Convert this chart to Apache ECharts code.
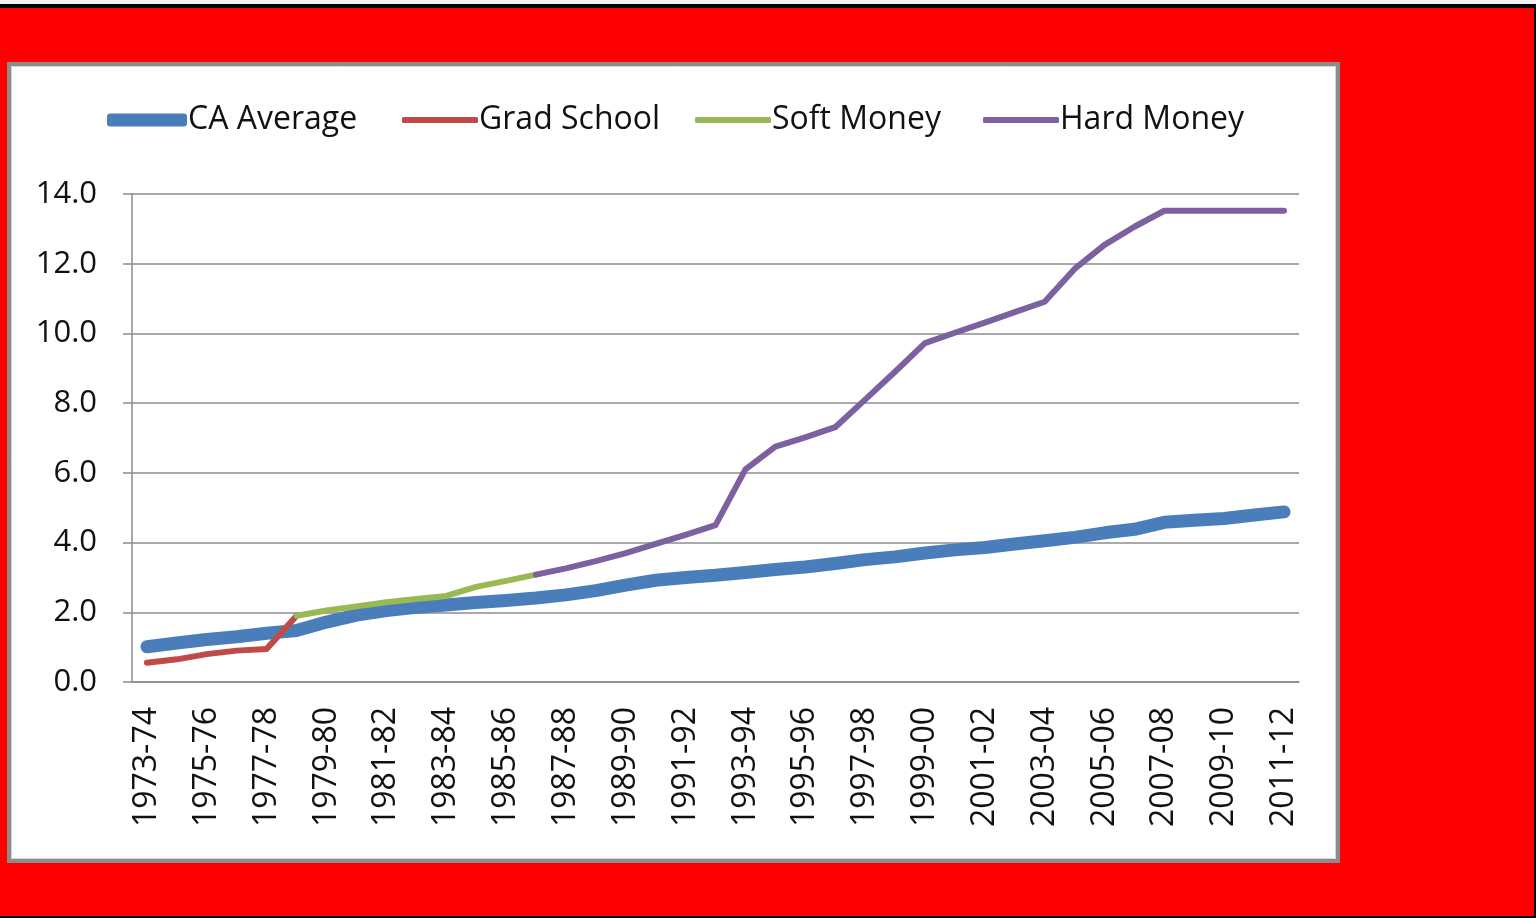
<!DOCTYPE html>
<html>
<head>
<meta charset="utf-8">
<title>CA Average vs Hard Money</title>
<script src="https://cdn.jsdelivr.net/npm/echarts@6/dist/echarts.min.js"></script>
<style>
  html, body { margin: 0; padding: 0; background: #f3f3f3; }
  #main { position: absolute; left: 0; top: 0; width: 1536px; height: 918px; }
  .edge { position: absolute; background: #000; pointer-events: none; }
</style>
</head>
<body>
<div id="main"></div>
<!-- black frame round the red slide -->
<div class="edge" style="left:0;top:0;width:1536px;height:4px;background:#f3f3f3"></div>
<div class="edge" style="left:0;top:4px;width:1536px;height:4px"></div>
<div class="edge" style="left:1534px;top:4px;width:2px;height:914px"></div>
<div class="edge" style="left:0;top:916px;width:1536px;height:2px"></div>
<script>
// school years on the x axis
var years = [
  "1973-74", "1974-75", "1975-76", "1976-77", "1977-78", "1978-79", "1979-80",
  "1980-81", "1981-82", "1982-83", "1983-84", "1984-85", "1985-86", "1986-87",
  "1987-88", "1988-89", "1989-90", "1990-91", "1991-92", "1992-93", "1993-94",
  "1994-95", "1995-96", "1996-97", "1997-98", "1998-99", "1999-00", "2000-01",
  "2001-02", "2002-03", "2003-04", "2004-05", "2005-06", "2006-07", "2007-08",
  "2008-09", "2009-10", "2010-11", "2011-12",
];

var caAverage = [
  1.01, 1.12, 1.22, 1.30, 1.40, 1.48, 1.72, 1.92, 2.05, 2.14,
  2.21, 2.28, 2.34, 2.41, 2.50, 2.62, 2.78, 2.92, 3.00, 3.06,
  3.14, 3.23, 3.30, 3.40, 3.51, 3.59, 3.70, 3.79, 3.86, 3.96,
  4.05, 4.15, 4.28, 4.38, 4.58, 4.64, 4.69, 4.79, 4.88,
];

var gradSchool = [0.55, 0.65, 0.80, 0.90, 0.95, 1.90];

var softMoney = [
  null, null, null, null, null,
  1.90, 2.05, 2.17, 2.29, 2.38, 2.47, 2.73, 2.90, 3.08,
];

var hardMoney = [
  null, null, null, null, null, null, null, null, null, null, null, null, null,
  3.08, 3.26, 3.47, 3.70, 3.96, 4.22, 4.50, 6.10, 6.75, 7.02, 7.31,
  8.10, 8.90, 9.72, 10.02, 10.31, 10.61, 10.91, 11.85, 12.54, 13.06,
  13.52, 13.52, 13.52, 13.52, 13.52,
];

var yTicks = [0, 2, 4, 6, 8, 10, 12, 14];

var fontName = "'Open Sans', 'DejaVu Sans', sans-serif";

// one legend per key so each sits where the original has it
function legendItem(name, left, thick) {
  return {
    left: left,
    top: 104,
    padding: 0,
    icon: "roundRect",
    itemWidth: thick ? 80 : 76,
    itemHeight: thick ? 13 : 6,
    textStyle: {
      color: "#111",
      fontFamily: fontName,
      fontSize: 32,
      padding: [0, 0, 0, -4],
    },
    data: [name],
  };
}

var mychart = echarts.init(document.getElementById("main"));
var option = {
  animation: false,
  backgroundColor: "#FF0000",
  color: ["#4A7EBB", "#BE4B48", "#98B954", "#7D60A0"],
  // white chart panel with grey frame
  graphic: [
    {
      type: "rect",
      z: -10,
      shape: { x: 9, y: 64, width: 1329, height: 797 },
      style: { fill: "#fff", stroke: "#8c8c8c", lineWidth: 4 },
    },
    {
      type: "rect",
      z: -9,
      shape: { x: 11.5, y: 66.5, width: 1324, height: 792 },
      style: { fill: null, stroke: "#d4d4d4", lineWidth: 1 },
    },
  ],
  legend: [
    legendItem("CA Average", 107, true),
    legendItem("Grad School", 402, false),
    legendItem("Soft Money", 695, false),
    legendItem("Hard Money", 983, false),
  ],
  grid: {
    left: 132,
    right: 237,
    top: 194,
    bottom: 236,
  },
  xAxis: {
    type: "category",
    boundaryGap: true,
    data: years,
    axisLine: { lineStyle: { color: "#8c8c8c", width: 1.5 } },
    axisTick: {
      interval: 0,
      length: 9,
      lineStyle: { color: "#8c8c8c", width: 1.5 },
    },
    axisLabel: {
      interval: 1,
      rotate: 90,
      margin: 25,
      color: "#111",
      fontFamily: fontName,
      fontSize: 32,
    },
  },
  yAxis: {
    type: "value",
    min: yTicks[0],
    max: yTicks[yTicks.length - 1],
    interval: 2,
    axisLine: { show: true, lineStyle: { color: "#8c8c8c", width: 1.5 } },
    axisTick: { show: true, length: 9, lineStyle: { color: "#8c8c8c", width: 1.5 } },
    splitLine: { lineStyle: { color: "#8c8c8c", width: 1.5 } },
    axisLabel: {
      margin: 35,
      color: "#111",
      fontFamily: fontName,
      fontSize: 31,
      formatter: function (v) {
        return v.toFixed(1);
      },
    },
  },
  series: [
    {
      name: "CA Average",
      type: "line",
      data: caAverage,
      symbol: "none",
      lineStyle: { width: 13, cap: "round", join: "round" },
      z: 2,
    },
    {
      name: "Grad School",
      type: "line",
      data: gradSchool,
      symbol: "none",
      lineStyle: { width: 6, cap: "round", join: "round" },
      z: 3,
    },
    {
      name: "Soft Money",
      type: "line",
      data: softMoney,
      symbol: "none",
      lineStyle: { width: 6, cap: "round", join: "round" },
      z: 3,
    },
    {
      name: "Hard Money",
      type: "line",
      data: hardMoney,
      symbol: "none",
      lineStyle: { width: 6, cap: "round", join: "round" },
      z: 4,
    },
  ],
};
mychart.setOption(option);
</script>
</body>
</html>
